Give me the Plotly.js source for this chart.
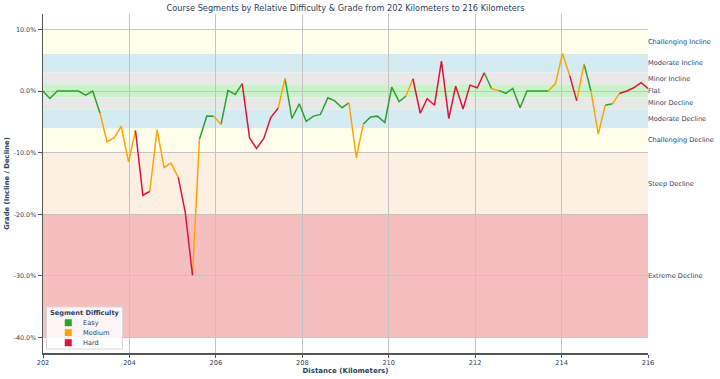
<!DOCTYPE html>
<html>
<head>
<meta charset="utf-8">
<script src="https://cdn.plot.ly/plotly-3.0.1.min.js"></script>
<style>html,body{margin:0;padding:0;background:#fff;}#chart{width:720px;height:379px;}</style>
</head>
<body>
<div id="chart"></div>
<script>
// Distance (km) of each sample point
const distanceKm = [202.00,202.16,202.33,202.49,202.66,202.82,202.99,203.15,203.32,203.48,
  203.65,203.81,203.98,204.14,204.31,204.47,204.64,204.80,204.96,205.13,
  205.29,205.46,205.62,205.79,205.95,206.12,206.28,206.45,206.61,206.78,
  206.94,207.11,207.27,207.44,207.60,207.76,207.93,208.09,208.26,208.42,
  208.59,208.75,208.92,209.08,209.25,209.41,209.58,209.74,209.91,210.07,
  210.24,210.40,210.56,210.73,210.89,211.06,211.22,211.39,211.55,211.72,
  211.88,212.05,212.21,212.38,212.54,212.71,212.87,213.04,213.20,213.36,
  213.53,213.69,213.86,214.02,214.19,214.35,214.52,214.68,214.85,215.01,
  215.18,215.34,215.51,215.67,215.84,216.00];
// Grade (%) at each sample point
const gradePct = [0,-1.2,0,0,0,0,-0.65,0,-3.6,-8.2,
  -7.6,-5.7,-11.5,-6.4,-16.9,-16.3,-6.3,-12.4,-11.7,-14.0,
  -19.6,-29.9,-7.8,-4.07,-4.1,-5.4,0.1,-0.55,1.2,-7.6,
  -9.3,-7.7,-4.3,-2.8,2.0,-4.45,-2.07,-4.9,-4.07,-3.8,
  -1.1,-1.6,-2.7,-1.9,-10.8,-5.4,-4.2,-4.07,-5.1,0.65,
  -1.7,-0.8,2.0,-3.6,-1.25,-2.3,4.85,-4.45,0.8,-2.9,
  0.96,0.53,2.97,0.37,0.1,-0.39,0.42,-2.7,0,0,
  0,0,1.2,6.1,2.5,-1.6,4.4,0,-7.0,-2.3,
  -2.07,-0.39,0,0.53,1.35,0.42];
// Difficulty of each segment (between point i and i+1)
const segmentDifficulty = [
  "Easy","Easy","Easy","Easy","Easy","Easy","Easy","Easy",
  "Medium","Medium","Medium","Medium","Medium",
  "Hard","Hard",
  "Medium","Medium","Medium","Medium",
  "Hard","Hard",
  "Medium",
  "Easy","Easy",
  "Medium",
  "Easy","Easy","Easy",
  "Hard","Hard","Hard","Hard","Hard",
  "Medium",
  "Easy","Easy","Easy","Easy","Easy","Easy","Easy","Easy","Easy",
  "Medium","Medium",
  "Easy","Easy","Easy","Easy","Easy","Easy",
  "Medium",
  "Hard","Hard","Hard","Hard","Hard","Hard","Hard","Hard","Hard","Hard",
  "Easy",
  "Medium",
  "Easy","Easy","Easy","Easy","Easy","Easy","Easy",
  "Medium","Medium","Medium",
  "Hard",
  "Medium",
  "Easy",
  "Medium","Medium",
  "Easy",
  "Medium",
  "Hard","Hard","Hard","Hard"];
const difficultyNames = ["Easy","Medium","Hard"];
const difficultyColors = ["#2ca02c","#FFA500","#DC143C"];

// Grade bands
const bandLow   = [6, 3, 1, -1, -3, -6, -10, -20, -40];
const bandHigh  = [10, 6, 3, 1, -1, -3, -6, -10, -20];
const bandLabel = ["Challenging Incline","Moderate Incline","Minor Incline","Flat","Minor Decline","Moderate Decline","Challenging Decline","Steep Decline","Extreme Decline"];
const bandColor = ["#FFFFEB","#D5EBF2","#E8E8E8","#C8F5C8","#E8E8E8","#D5EBF2","#FFFFEB","#FDF0E2","#F6BFBF"];

const yTickVals = [10, 0, -10, -20, -30, -40];
const yTickText = ["10.0%","0.0%","-10.0%","-20.0%","-30.0%","-40.0%"];
const xTickVals = [202,204,206,208,210,212,214,216];

const FONT = "DejaVu Sans";
const TXT = "#2a3f5f";
const W = 720, H = 379, ML = 43, MR = 72, MT = 14, MB = 26;
const PW = W - ML - MR, PH = H - MT - MB;
const px = v => (v - ML) / PW;          // pixel x -> paper x
const py = v => (H - MB - v) / PH;      // pixel y -> paper y

const traces = [];
difficultyNames.forEach((name, k) => {
  const xs = [], ys = [];
  for (let i = 0; i < segmentDifficulty.length; i++) {
    if (segmentDifficulty[i] !== name) continue;
    const startNew = (i === 0 || segmentDifficulty[i-1] !== name);
    if (startNew) { if (xs.length) { xs.push(null); ys.push(null); } xs.push(distanceKm[i]); ys.push(gradePct[i]); }
    xs.push(distanceKm[i+1]); ys.push(gradePct[i+1]);
  }
  traces.push({x: xs, y: ys, type: "scatter", mode: "lines", name: name, line: {color: difficultyColors[k], width: 1.5},
    connectgaps: false, showlegend: false, hoverinfo: "skip"});
});

const shapes = bandLow.map((lo, i) => ({type: "rect", xref: "paper", yref: "y", x0: 0, x1: 1, y0: lo, y1: bandHigh[i],
  fillcolor: bandColor[i], line: {width: 0}, layer: "below"}));
const annotations = bandLabel.map((t, i) => ({xref: "paper", yref: "y", x: 1, y: (bandLow[i] + bandHigh[i]) / 2,
  xanchor: "left", yanchor: "middle", text: t, showarrow: false, xshift: -2, font: {family: FONT, size: 6.6, color: TXT}}));

// Legend box (drawn manually for compact matplotlib-like layout)
shapes.push({type: "rect", xref: "paper", yref: "paper", x0: px(46.5), x1: px(122.5), y0: py(349), y1: py(307),
  fillcolor: "rgba(255,255,255,0.85)", line: {color: "#d8d8d8", width: 1}, layer: "above"});
annotations.push({xref: "paper", yref: "paper", x: px(84.5), y: py(312.5), xanchor: "center", yanchor: "middle",
  text: "<b>Segment Difficulty</b>", showarrow: false, font: {family: FONT, size: 6.6, color: TXT}});
difficultyNames.forEach((name, k) => {
  const cy = 322.7 + k * 10;
  shapes.push({type: "rect", xref: "paper", yref: "paper", x0: px(65), x1: px(71.5), y0: py(cy + 3.3), y1: py(cy - 3.3),
    fillcolor: difficultyColors[k], line: {width: 0.5, color: difficultyColors[k]}, layer: "above"});
  annotations.push({xref: "paper", yref: "paper", x: px(80.5), y: py(cy), xanchor: "left", yanchor: "middle",
    text: name, showarrow: false, font: {family: FONT, size: 6.6, color: TXT}});
});

const layout = {
  width: W, height: H,
  margin: {l: ML, r: MR, t: MT, b: MB},
  paper_bgcolor: "#ffffff", plot_bgcolor: "#ffffff",
  font: {family: FONT, size: 6.5, color: TXT},
  showlegend: false,
  title: {text: "Course Segments by Relative Difficulty & Grade from 202 Kilometers to 216 Kilometers",
    font: {family: FONT, size: 8.2, color: TXT}, x: px(345.5), xref: "paper", xanchor: "center", y: 0.979, yanchor: "middle"},
  xaxis: {range: [202, 216], tickvals: xTickVals, ticktext: xTickVals.map(String), showgrid: true, gridcolor: "#c4c4c4", gridwidth: 1,
    zeroline: false, showline: true, linecolor: "#555", linewidth: 1.5, ticks: "outside", ticklen: 3, tickcolor: "#555",
    tickfont: {family: FONT, size: 6.6, color: TXT},
    title: {text: "<b>Distance (Kilometers)</b>", font: {family: FONT, size: 7, color: TXT}, standoff: 1}},
  yaxis: {range: [-42.5, 12.5], tickvals: yTickVals, ticktext: yTickText, showgrid: true, gridcolor: "#c4c4c4", gridwidth: 1,
    zeroline: false, showline: true, linecolor: "#555", linewidth: 1.5, ticks: "outside", ticklen: 4, tickcolor: "#555",
    tickfont: {family: FONT, size: 6.4, color: TXT},
    title: {text: "<b>Grade (Incline / Decline)</b>", font: {family: FONT, size: 6.8, color: TXT}, standoff: 3}},
  shapes: shapes,
  annotations: annotations
};
Plotly.newPlot("chart", traces, layout, {displayModeBar: false, staticPlot: true});
</script>
</body>
</html>
